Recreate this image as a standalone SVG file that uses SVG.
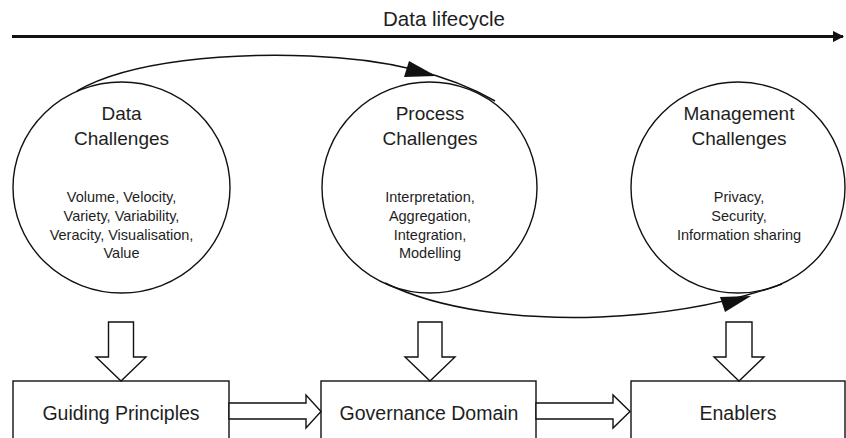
<svg xmlns="http://www.w3.org/2000/svg" width="846" height="438" viewBox="0 0 846 438">
<defs>
<style>
text{font-family:"Liberation Sans",Arial,sans-serif;fill:#1e1e1e;text-anchor:middle}
.t{font-size:19px}
.s{font-size:14.5px}
.b{font-size:19.5px}
.c{fill:#fff;stroke:#111;stroke-width:1.4}
.box{fill:#fff;stroke:#111;stroke-width:1.4}
.ha{fill:#fff;stroke:#111;stroke-width:1.4;stroke-linejoin:miter}
.cv{fill:none;stroke:#111;stroke-width:1.5}
.head{fill:#111;stroke:none}
</style>
<marker id="ah" viewBox="0 0 10 10" refX="9" refY="5" markerWidth="4" markerHeight="4" orient="auto" markerUnits="strokeWidth">
<path d="M0,0 L10,5 L0,10 Z" fill="#111"/>
</marker>
</defs>
<g id="lifecycle">
<line x1="12" y1="36.5" x2="843" y2="36.5" stroke="#111" stroke-width="2.8" marker-end="url(#ah)"/>
<text x="444" y="26" style="font-size:20.5px">Data lifecycle</text>
</g>
<g id="data-challenges">
<ellipse class="c" cx="121.5" cy="187.5" rx="108.5" ry="105.5"/>
<text class="t" x="121.5" y="120">Data</text>
<text class="t" x="121.5" y="145">Challenges</text>
<text class="s" x="121.5" y="202">Volume, Velocity,</text>
<text class="s" x="121.5" y="221">Variety, Variability,</text>
<text class="s" x="121.5" y="240">Veracity, Visualisation,</text>
<text class="s" x="121.5" y="258">Value</text>
</g>
<g id="process-challenges">
<ellipse class="c" cx="429.5" cy="187.5" rx="107.5" ry="105.5"/>
<text class="t" x="430" y="120">Process</text>
<text class="t" x="430" y="145">Challenges</text>
<text class="s" x="430" y="202">Interpretation,</text>
<text class="s" x="430" y="221">Aggregation,</text>
<text class="s" x="430" y="240">Integration,</text>
<text class="s" x="430" y="258">Modelling</text>
</g>
<g id="management-challenges">
<ellipse class="c" cx="738" cy="187.5" rx="107" ry="105.5"/>
<text class="t" x="739" y="120">Management</text>
<text class="t" x="739" y="145">Challenges</text>
<text class="s" x="739" y="202">Privacy,</text>
<text class="s" x="739" y="221">Security,</text>
<text class="s" x="739" y="240">Information sharing</text>
</g>
<g id="guiding-principles">
<rect class="box" x="13" y="381" width="216" height="70"/>
<text class="b" x="121" y="420">Guiding Principles</text>
</g>
<g id="governance-domain">
<rect class="box" x="321" y="381" width="215" height="70"/>
<text class="b" x="429" y="420">Governance Domain</text>
</g>
<g id="enablers">
<rect class="box" x="631" y="381" width="214" height="70"/>
<text class="b" x="738" y="420">Enablers</text>
</g>
<g id="connectors">
<path class="cv" d="M77,91 C130,60 230,53 310,56 C390,59 450,75 495,101"/>
<polygon class="head" points="409,61 404,77 436,76"/>
<path class="cv" d="M385,283 C440,310 520,320 600,317 C680,314 740,299 782,284"/>
<polygon class="head" points="720,297 725,312 751,296"/>
<polygon class="ha" points="108.5,322 133.5,322 133.5,357 146,357 121,381 96,357 108.5,357"/>
<polygon class="ha" points="418,322 442,322 442,357 455,357 430,381 405,357 418,357"/>
<polygon class="ha" points="726,322 752,322 752,357 764,357 739,381 714,357 726,357"/>
<polygon class="ha" points="229,403 306,403 306,395 321,411.5 306,428 306,419 229,419"/>
<polygon class="ha" points="536,403 613,403 613,395 630,411.5 613,428 613,419 536,419"/>
</g>
</svg>
